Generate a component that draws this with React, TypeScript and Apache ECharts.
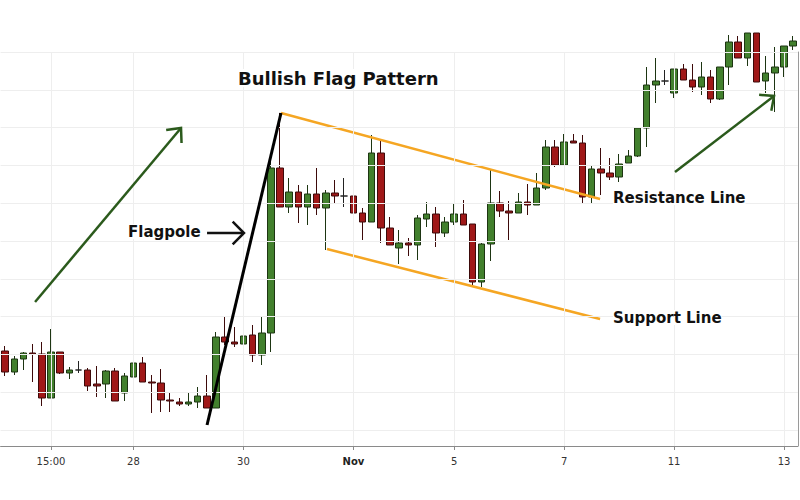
import React, { useEffect, useRef } from "react";
import * as echarts from "echarts";

// Candles: [open, close, low, high]
const candles: number[][] = [
  [149, 128, 124, 154], [128, 141, 125, 144], [141, 147, 130, 148], [147, 146, 118, 156],
  [146, 102, 94, 158], [102, 148, 102, 171], [148, 127, 126, 148], [127, 130, 121, 133],
  [130, 130, 127, 139], [130, 114, 109, 132], [116, 114, 103, 134], [116, 129, 102, 130],
  [129, 99, 99, 132], [107, 124, 99, 127], [123, 137, 121, 141], [137, 118, 118, 143],
  [118, 117, 87, 125], [117, 100, 88, 131], [100, 99, 88, 107], [98, 96, 94, 102],
  [96, 98, 94, 107], [98, 104, 92, 113], [104, 92, 92, 125], [92, 163, 92, 168],
  [163, 158, 155, 183], [158, 156, 153, 173], [156, 164, 152, 172], [165, 145, 138, 175],
  [145, 167, 135, 183], [167, 332, 148, 340], [332, 293, 293, 387], [293, 308, 287, 322],
  [308, 293, 277, 315], [293, 306, 275, 315], [306, 292, 285, 332], [292, 307, 250, 310],
  [307, 304, 297, 320], [304, 304, 293, 322], [304, 287, 273, 308], [287, 278, 260, 292],
  [278, 347, 278, 365], [347, 272, 257, 360], [272, 255, 255, 283], [252, 257, 236, 270],
  [257, 255, 244, 262], [255, 282, 240, 285], [281, 286, 273, 298], [286, 267, 253, 293],
  [267, 278, 263, 283], [278, 286, 275, 296], [286, 275, 275, 300], [276, 218, 215, 276],
  [218, 256, 213, 257], [256, 297, 239, 330], [297, 289, 283, 309], [289, 287, 260, 299],
  [287, 298, 287, 307], [298, 295, 285, 316], [295, 312, 295, 327], [312, 353, 310, 360],
  [353, 335, 333, 360], [335, 358, 335, 366], [359, 357, 357, 366], [357, 303, 297, 365],
  [303, 331, 297, 335], [331, 327, 305, 352], [327, 323, 320, 342], [323, 336, 318, 346],
  [337, 344, 337, 350], [344, 372, 343, 372], [372, 415, 353, 433], [415, 419, 397, 442],
  [419, 419, 415, 430], [407, 431, 402, 431], [431, 420, 420, 436], [420, 413, 408, 436],
  [413, 423, 405, 438], [423, 401, 397, 430], [401, 433, 400, 433], [433, 458, 415, 465],
  [458, 442, 442, 464], [442, 467, 434, 467], [467, 418, 418, 467], [419, 427, 407, 444],
  [427, 433, 388, 453], [433, 454, 423, 454], [454, 459, 450, 464],
];

const tickIndex = [5, 14, 26, 38, 49, 61, 73, 85];
const tickLabels = ["15:00", "28", "30", "Nov", "5", "7", "11", "13"];
const gridLevels = [70, 107.8, 145.6, 183.4, 221.2, 259, 296.8, 334.6, 372.4, 410.2, 448];

// Annotation lines: [candle position, price]
const flagpoleLine = [[22.03, 75], [30.1, 387]];
const resistanceLine = [[30.1, 387], [64.92, 301]];
const supportLine = [[35.12, 251], [64.92, 181]];
// Arrows: [x1, y1, x2, y2] (tail -> tip)
const trendArrows = [[3.26, 198, 19.19, 372], [73.1, 328, 83.91, 404]];
const flagpoleArrow = [[22.03, 267, 26.06, 267]];

const categories = candles.map((_, i) => String(i));
const FONT = "DejaVu Sans";

function arrowRenderer(color: string, width: number, headLen: number, headAngle: number) {
  return (params: any, api: any) => {
    const p1 = api.coord([api.value(0), api.value(1)]);
    const p2 = api.coord([api.value(2), api.value(3)]);
    const ang = Math.atan2(p2[1] - p1[1], p2[0] - p1[0]);
    const h1 = [p2[0] - headLen * Math.cos(ang - headAngle), p2[1] - headLen * Math.sin(ang - headAngle)];
    const h2 = [p2[0] - headLen * Math.cos(ang + headAngle), p2[1] - headLen * Math.sin(ang + headAngle)];
    return {
      type: "group",
      children: [
        { type: "line", shape: { x1: p1[0], y1: p1[1], x2: p2[0], y2: p2[1] }, style: { stroke: color, lineWidth: width } },
        { type: "polyline", shape: { points: [h1, p2, h2] }, style: { stroke: color, lineWidth: width, fill: "none" } },
      ],
    };
  };
}

export default function App() {
  const ref = useRef<HTMLDivElement>(null);
  useEffect(() => {
    if (!ref.current) return;
    const chart = echarts.init(ref.current, null, { renderer: "svg" });
    const isTick = (i: number) => tickIndex.indexOf(i) >= 0;
    const n = candles.length;
    const textStyle = (text: string, size: number) => ({
      text,
      font: `bold ${size}px "${FONT}"`,
      fill: "#111",
      backgroundColor: "#ffffff",
    });
    chart.setOption({
      animation: false,
      backgroundColor: "#ffffff",
      grid: { left: 0.6, right: 2.2, top: 52, bottom: 54, containLabel: false },
      xAxis: [
        {
          type: "category",
          data: categories,
          boundaryGap: true,
          axisLine: { show: true, onZero: false, lineStyle: { color: "#8a8a8a", width: 1 } },
          axisTick: { show: true, alignWithLabel: true, interval: (i: number) => isTick(i), length: 4, lineStyle: { color: "#8a8a8a" } },
          axisLabel: {
            interval: (i: number) => isTick(i),
            formatter: (_v: string, i: number) => {
              const k = tickIndex.indexOf(i);
              if (k < 0) return "";
              return tickLabels[k] === "Nov" ? "{b|Nov}" : tickLabels[k];
            },
            color: "#333",
            fontFamily: FONT,
            fontSize: 10,
            margin: 10,
            rich: { b: { fontWeight: "bold", fontFamily: FONT, fontSize: 10, color: "#222" } },
          },
          splitLine: { show: false },
        },
        { type: "value", min: -0.5, max: n - 0.5, show: false, splitLine: { show: false } },
      ],
      yAxis: {
        type: "value",
        min: 54,
        max: 448,
        position: "right",
        axisLine: { show: true, onZero: false, lineStyle: { color: "#9a9a9a" } },
        axisTick: { show: false },
        axisLabel: { show: false },
        splitLine: { show: false },
      },
      series: [
        {
          type: "line",
          xAxisIndex: 1,
          data: [],
          z: 1,
          silent: true,
          markLine: {
            silent: true,
            symbol: ["none", "none"],
            label: { show: false },
            lineStyle: { color: "#eeeeee", width: 1, type: "solid" },
            data: [
              ...gridLevels.map((v) => ({ yAxis: v })),
              ...tickIndex.map((i) => ({ xAxis: i })),
            ],
          },
        },
        {
          type: "candlestick",
          data: candles,
          barWidth: 7,
          clip: false,
          z: 3,
          itemStyle: {
            color: "#42802d",
            color0: "#a01818",
            borderColor: "#1d3512",
            borderColor0: "#3d0a0a",
            borderColorDoji: "#222",
            borderWidth: 1,
          },
        },
        {
          type: "line",
          xAxisIndex: 1,
          data: flagpoleLine,
          symbol: "none",
          z: 5,
          lineStyle: { color: "#000", width: 3 },
        },
        {
          type: "line",
          xAxisIndex: 1,
          data: resistanceLine,
          symbol: "none",
          z: 4,
          lineStyle: { color: "#f5a623", width: 2.5 },
        },
        {
          type: "line",
          xAxisIndex: 1,
          data: supportLine,
          symbol: "none",
          z: 4,
          lineStyle: { color: "#f5a623", width: 2.5 },
        },
        {
          type: "custom",
          xAxisIndex: 1,
          data: trendArrows,
          encode: { x: [0, 2], y: [1, 3] },
          z: 6,
          clip: false,
          renderItem: arrowRenderer("#2b5a1c", 2.5, 15, (42 * Math.PI) / 180),
        },
        {
          type: "custom",
          xAxisIndex: 1,
          data: flagpoleArrow,
          encode: { x: [0, 2], y: [1, 3] },
          z: 6,
          clip: false,
          renderItem: arrowRenderer("#111", 2.5, 16, (45 * Math.PI) / 180),
        },
      ],
      graphic: [
        { type: "text", left: 238, top: 69, z: 10, style: textStyle("Bullish Flag Pattern", 18) },
        { type: "text", left: 128, top: 224, z: 10, style: textStyle("Flagpole", 15) },
        { type: "text", left: 613, top: 190, z: 10, style: textStyle("Resistance Line", 15) },
        { type: "text", left: 613, top: 310, z: 10, style: textStyle("Support Line", 15) },
      ],
    });
    return () => chart.dispose();
  }, []);
  return (
    <div
      ref={ref}
      style={{ position: "fixed", left: 0, top: 0, width: 800, height: 500, background: "#fff" }}
    />
  );
}
